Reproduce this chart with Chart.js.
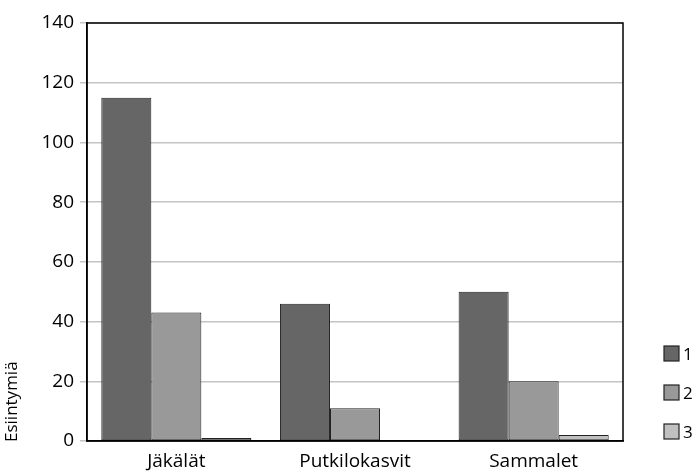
<!DOCTYPE html>
<html>
<head>
<meta charset="utf-8">
<script src="https://cdn.jsdelivr.net/npm/chart.js@4/dist/chart.umd.min.js"></script>
<style>
html,body{margin:0;padding:0;background:#fff;}
#wrap{width:697px;height:472px;position:relative;}
</style>
</head>
<body>
<div id="wrap"><canvas id="c" width="697" height="472"></canvas></div>
<script>
const categories = ["Jäkälät", "Putkilokasvit", "Sammalet"];
const seriesNames = ["1", "2", "3"];
const series1 = [115, 46, 50];
const series2 = [43, 11, 20];
const series3 = [1, 0, 2];
const yTicks = [0, 20, 40, 60, 80, 100, 120, 140];
const yTitle = "Esiintymiä";
const colors = ["#666666", "#999999", "#c0c0c0"];

const FONT = "'Open Sans', sans-serif";

const frame = {
  id: 'frame',
  afterDraw(chart) {
    const {ctx, chartArea: a} = chart;
    ctx.save();
    ctx.strokeStyle = '#000';
    ctx.lineWidth = 1.5;
    ctx.strokeRect(a.left, a.top, a.right - a.left, a.bottom - a.top);
    // y title
    ctx.translate(12, 442);
    ctx.rotate(-Math.PI / 2);
    ctx.font = "17px " + FONT;
    ctx.fillStyle = '#000';
    ctx.textAlign = 'left';
    ctx.textBaseline = 'middle';
    ctx.fillText(yTitle, 0, 0);
    ctx.restore();
    // legend
    ctx.save();
    const ds = chart.data.datasets;
    ds.forEach((d, i) => {
      const y = 346 + i * 39;
      ctx.fillStyle = d.backgroundColor;
      ctx.fillRect(664, y, 15, 15);
      ctx.strokeStyle = '#222';
      ctx.lineWidth = 1.2;
      ctx.strokeRect(664, y, 15, 15);
      ctx.fillStyle = '#000';
      ctx.font = "17px " + FONT;
      ctx.textAlign = 'left';
      ctx.textBaseline = 'middle';
      ctx.fillText(d.label, 683, y + 9);
    });
    ctx.restore();
  }
};

new Chart(document.getElementById('c'), {
  type: 'bar',
  data: {
    labels: categories,
    datasets: [series1, series2, series3].map((v, i) => ({
      label: seriesNames[i],
      data: v,
      backgroundColor: colors[i],
      borderColor: '#222',
      borderWidth: 1,
      borderSkipped: false,
      categoryPercentage: 0.84,
      barPercentage: 1.0
    }))
  },
  options: {
    responsive: false,
    animation: false,
    devicePixelRatio: 1,
    layout: {padding: {left: 0, right: 74, top: 23, bottom: 0}},
    plugins: {legend: {display: false}, tooltip: {enabled: false}},
    scales: {
      x: {
        grid: {display: false},
        border: {display: true, color: '#000', width: 1.5},
        ticks: {color: '#000', font: {size: 19, family: FONT}, padding: 1, maxRotation: 0},
        afterFit(s) { s.height = 31; }
      },
      y: {
        min: 0, max: 140,
        afterBuildTicks(s) { s.ticks = yTicks.map(v => ({value: v})); },
        grid: {color: '#c4c4c4', lineWidth: 1.5, tickLength: 7, drawOnChartArea: true},
        border: {display: true, color: '#000', width: 1.5},
        ticks: {color: '#000', font: {size: 19, family: FONT}, padding: 6},
        afterFit(s) { s.width = 87; }
      }
    }
  },
  plugins: [frame]
});
</script>
</body>
</html>
